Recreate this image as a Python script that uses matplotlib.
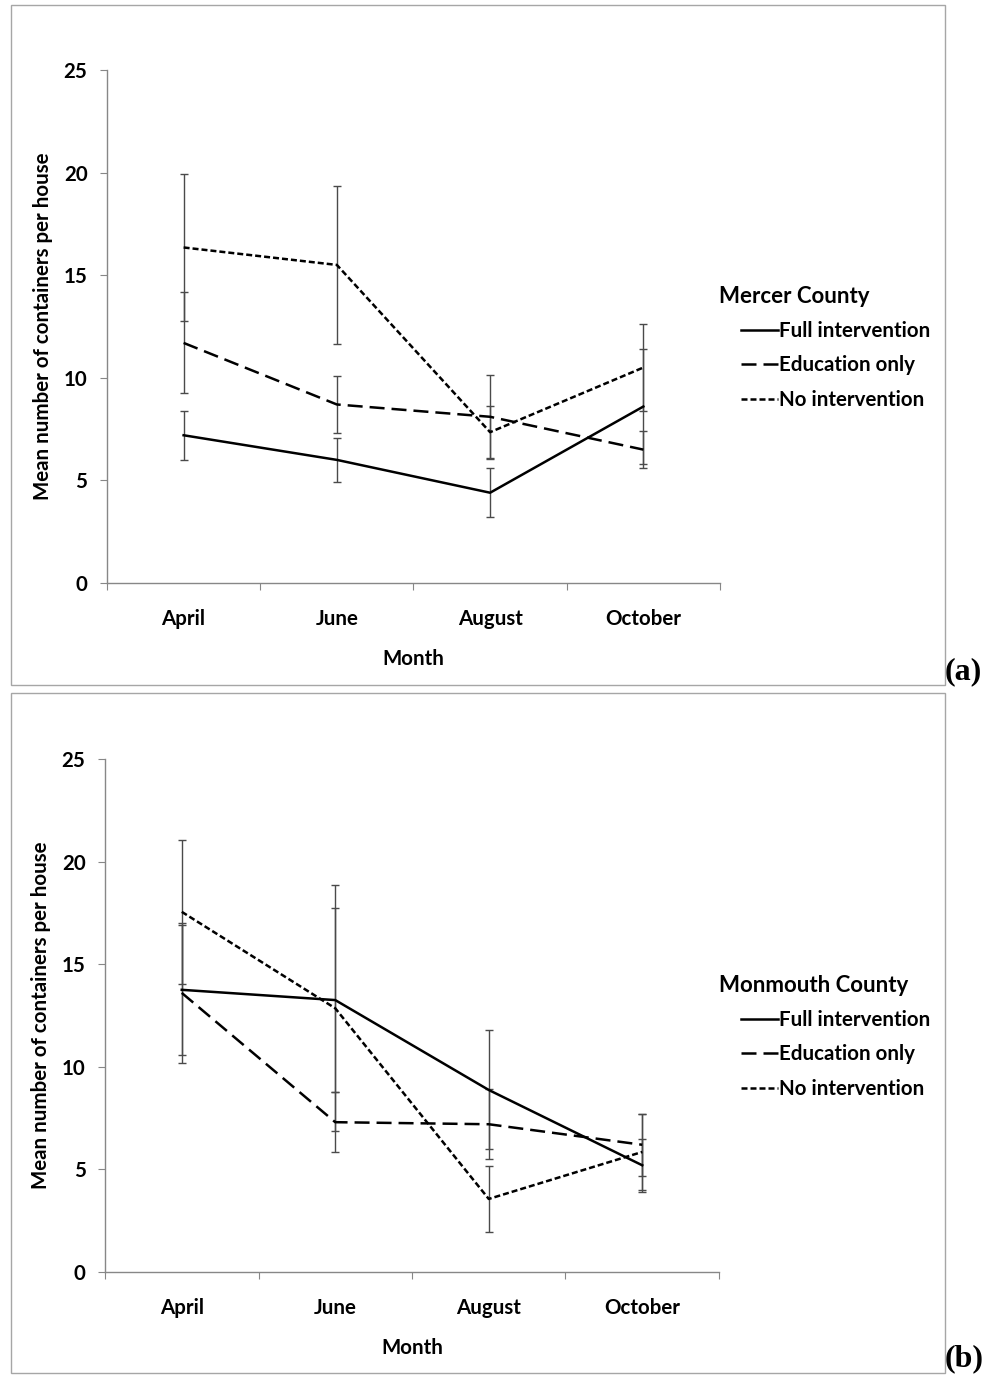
import numpy as np
import matplotlib
matplotlib.use('Agg')
from matplotlib import pyplot as plt
from matplotlib.patches import Rectangle

months = ['April', 'June', 'August', 'October']
series = ['Full intervention', 'Education only', 'No intervention']

# Mercer County (a)
mercer_full = [7.2, 6.0, 4.4, 8.6]
mercer_full_err = [1.2, 1.07, 1.2, 2.79]
mercer_edu = [11.7, 8.7, 8.1, 6.5]
mercer_edu_err = [2.46, 1.4, 2.05, 0.9]
mercer_none = [16.35, 15.5, 7.35, 10.5]
mercer_none_err = [3.58, 3.85, 1.27, 2.13]

# Monmouth County (b)
monmouth_full = [13.75, 13.25, 8.87, 5.2]
monmouth_full_err = [3.17, 4.48, 2.9, 1.28]
monmouth_edu = [13.6, 7.3, 7.2, 6.2]
monmouth_edu_err = [3.4, 1.47, 1.7, 1.5]
monmouth_none = [17.55, 12.85, 3.56, 5.85]
monmouth_none_err = [3.5, 6.0, 1.6, 1.83]

plt.rcParams['font.family'] = ['Lato', 'DejaVu Sans']

styles = [dict(linestyle='-'),
          dict(linestyle=(0, (6, 2.8))),
          dict(linestyle=(0, (2.4, 1.2)))]

fig = plt.figure(figsize=(9.86, 13.77), dpi=100)

panels = [
    ([0.1085, 0.5766, 0.6217, 0.3726], 'Mercer County',
     [mercer_full, mercer_edu, mercer_none],
     [mercer_full_err, mercer_edu_err, mercer_none_err], 0.5025, '(a)'),
    ([0.1065, 0.07625, 0.6227, 0.3726], 'Monmouth County',
     [monmouth_full, monmouth_edu, monmouth_none],
     [monmouth_full_err, monmouth_edu_err, monmouth_none_err], 0.0029, '(b)'),
]

x = np.arange(len(months))
grey = '#878787'
fs = 14.8
for rect, county, vals, errs, frame_y, tag in panels:
    ax = fig.add_axes(rect)
    lines = []
    for name, v, e, st in zip(series, vals, errs, styles):
        ax.errorbar(x, v, yerr=e, fmt='none', ecolor='#4a4a4a', elinewidth=1.0,
                    capsize=3, capthick=1.0, zorder=2)
        ln, = ax.plot(x, v, color='black', lw=1.8, label=name, zorder=3, **st)
        lines.append(ln)

    ax.set_xlim(-0.5, 3.5)
    ax.set_ylim(0, 25)
    ax.set_yticks(np.arange(0, 26, 5))
    ax.set_xticks(np.arange(-0.5, 3.6, 1))
    ax.set_xticklabels([])
    ax.set_xticks(x, minor=True)
    ax.set_xticklabels(months, minor=True)
    ax.tick_params(axis='x', which='minor', length=0, pad=19, labelsize=fs)
    ax.tick_params(axis='x', which='major', length=5, direction='out', color=grey)
    ax.tick_params(axis='y', length=5, direction='out', color=grey, pad=9,
                   labelsize=fs)
    plt.setp(ax.get_xticklabels(minor=True), fontweight='bold')
    plt.setp(ax.get_yticklabels(), fontweight='bold')
    for s in ['top', 'right']:
        ax.spines[s].set_visible(False)
    for s in ['left', 'bottom']:
        ax.spines[s].set_color(grey)
        ax.spines[s].set_linewidth(1.0)

    ax.set_xlabel('Month', fontsize=fs, fontweight='bold', labelpad=14)
    ax.set_ylabel('Mean number of containers per house', fontsize=fs,
                  fontweight='bold', labelpad=8)

    # legend block to the right of the plot
    top_px = (1 - rect[1] - rect[3]) * 1377
    fig.text(719 / 986, 1 - (top_px + 227) / 1377, county, fontsize=16,
             fontweight='bold', ha='left', va='center')
    ax.legend(handles=lines, loc='upper left', frameon=False,
              bbox_to_anchor=(741 / 986, 1 - (top_px + 251) / 1377),
              bbox_transform=fig.transFigure, handlelength=1.8,
              handletextpad=0.05, labelspacing=0.7, borderpad=0,
              borderaxespad=0, prop=dict(size=fs, weight='bold'))

    fig.patches.append(Rectangle((0.0112, frame_y), 0.9473, 0.4936,
                                 transform=fig.transFigure, fill=False,
                                 edgecolor='#a6a6a6', lw=1.0))
    fig.text(0.9585, frame_y - 0.0005, tag, fontsize=23, fontweight='bold',
             family='Liberation Serif', ha='left', va='bottom')

fig.savefig('out.png', dpi=100)
